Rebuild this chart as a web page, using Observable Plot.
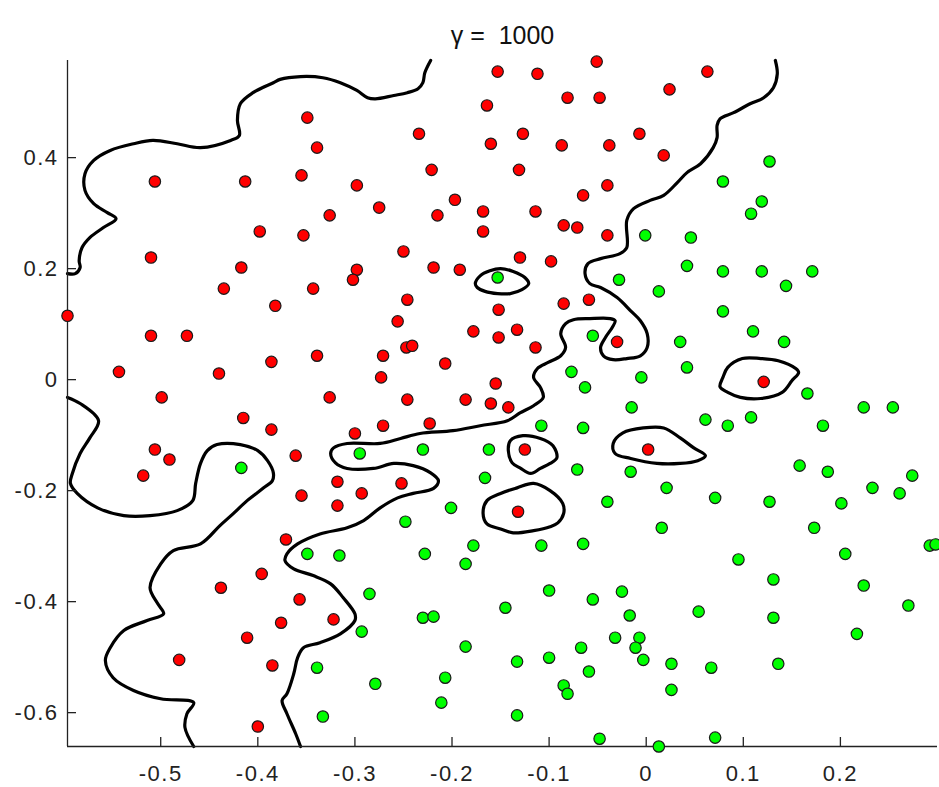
<!DOCTYPE html>
<html><head><meta charset="utf-8">
<script src="https://cdn.jsdelivr.net/npm/d3@7"></script>
<script src="https://cdn.jsdelivr.net/npm/@observablehq/plot@0.6"></script>
<style>
body{margin:0;background:#fff}
svg{display:block}
g[aria-label="x-axis tick label"] text, g[aria-label="y-axis tick label"] text{letter-spacing:1.5px}
</style>
</head><body><div id="chart"></div>
<script>
const titleText = "γ = \u00a01000";
const xDomain = [-0.596, 0.300];
const yDomain = [-0.661, 0.575];
const xTicks = [-0.5, -0.4, -0.3, -0.2, -0.1, 0, 0.1, 0.2];
const xTickLabels = ["-0.5", "-0.4", "-0.3", "-0.2", "-0.1", "0", "0.1", "0.2"];
const yTicks = [-0.6, -0.4, -0.2, 0, 0.2, 0.4];
const yTickLabels = ["-0.6", "-0.4", "-0.2", "0", "0.2", "0.4"];

const redPoints = [
[-0.506,0.357],[-0.413,0.357],[-0.398,0.267],[-0.510,0.220],[-0.417,0.202],[-0.435,0.164],
[-0.153,0.555],[-0.164,0.494],[-0.160,0.425],[-0.349,0.472],[-0.339,0.418],[-0.234,0.443],
[-0.355,0.368],[-0.221,0.378],[-0.298,0.350],[-0.326,0.296],[-0.275,0.310],[-0.197,0.324],
[-0.215,0.296],[-0.168,0.303],[-0.353,0.260],[-0.168,0.267],[-0.250,0.231],[-0.298,0.198],
[-0.302,0.180],[-0.219,0.202],[-0.192,0.198],[-0.343,0.164],[-0.112,0.551],[-0.051,0.573],
[0.063,0.555],[0.024,0.523],[-0.081,0.508],[-0.048,0.508],[-0.127,0.443],[-0.087,0.422],
[-0.038,0.422],[-0.007,0.443],[0.018,0.404],[-0.131,0.378],[-0.040,0.350],[-0.065,0.332],
[-0.114,0.303],[-0.085,0.278],[-0.071,0.274],[-0.040,0.260],[-0.130,0.220],[-0.098,0.213],
[-0.382,0.133],[-0.596,0.115],[-0.510,0.079],[-0.473,0.079],[-0.386,0.032],[-0.543,0.014],
[-0.440,0.011],[-0.499,-0.032],[-0.415,-0.069],[-0.386,-0.090],[-0.506,-0.126],[-0.491,-0.144],
[-0.518,-0.173],[-0.246,0.144],[-0.256,0.105],[-0.152,0.126],[-0.178,0.087],[-0.152,0.076],
[-0.247,0.058],[-0.241,0.061],[-0.339,0.043],[-0.271,0.043],[-0.207,0.029],[-0.273,0.004],
[-0.155,-0.007],[-0.160,-0.043],[-0.142,-0.050],[-0.326,-0.032],[-0.246,-0.036],[-0.186,-0.036],
[-0.271,-0.083],[-0.223,-0.079],[-0.300,-0.097],[-0.361,-0.137],[-0.318,-0.184],[-0.252,-0.187],
[-0.355,-0.209],[-0.293,-0.205],[-0.318,-0.227],[-0.085,0.137],[-0.059,0.144],[-0.133,0.090],
[-0.114,0.058],[-0.030,0.068],[-0.125,-0.126],[0.002,-0.126],[-0.132,-0.238],[0.121,-0.004],
[-0.371,-0.288],[-0.396,-0.350],[-0.438,-0.375],[-0.376,-0.438],[-0.411,-0.465],[-0.481,-0.505],
[-0.385,-0.515],[-0.400,-0.625],[-0.357,-0.396],[-0.322,-0.432]
];

const greenPoints = [
[-0.153,0.184],[0.079,0.357],[-0.001,0.260],[0.046,0.256],[0.042,0.205],[0.079,0.195],
[-0.028,0.180],[0.013,0.159],[0.127,0.393],[0.119,0.321],[0.108,0.299],[0.119,0.195],
[0.171,0.195],[0.144,0.169],[-0.295,-0.133],[-0.230,-0.126],[-0.162,-0.126],[-0.166,-0.177],
[-0.201,-0.231],[-0.248,-0.256],[0.079,0.123],[-0.055,0.079],[0.035,0.068],[0.042,0.022],
[-0.077,0.014],[-0.063,-0.014],[-0.005,0.004],[-0.015,-0.050],[0.061,-0.072],[0.084,-0.083],
[-0.108,-0.083],[-0.065,-0.087],[-0.071,-0.162],[-0.016,-0.166],[0.021,-0.195],[0.071,-0.213],
[-0.040,-0.220],[0.016,-0.267],[0.110,0.087],[0.142,0.068],[0.166,-0.025],[0.224,-0.050],
[0.254,-0.050],[0.108,-0.068],[0.182,-0.083],[0.158,-0.155],[0.187,-0.166],[0.274,-0.173],
[0.233,-0.195],[0.261,-0.205],[0.127,-0.220],[0.201,-0.223],[0.173,-0.267],[-0.349,-0.314],
[-0.316,-0.317],[-0.228,-0.314],[-0.178,-0.299],[-0.186,-0.332],[-0.285,-0.386],[-0.293,-0.454],
[-0.230,-0.429],[-0.219,-0.427],[-0.145,-0.411],[-0.186,-0.481],[-0.339,-0.519],[-0.279,-0.548],
[-0.207,-0.537],[-0.211,-0.582],[-0.333,-0.607],[-0.108,-0.299],[-0.065,-0.296],[-0.100,-0.380],
[-0.055,-0.396],[-0.025,-0.382],[-0.017,-0.425],[0.054,-0.418],[-0.032,-0.465],[-0.007,-0.465],
[-0.011,-0.483],[-0.067,-0.483],[-0.003,-0.505],[0.026,-0.512],[0.067,-0.519],[-0.133,-0.508],
[-0.100,-0.501],[-0.059,-0.526],[-0.085,-0.551],[-0.081,-0.566],[0.026,-0.559],[-0.133,-0.605],
[-0.048,-0.647],[0.013,-0.661],[0.071,-0.645],[0.095,-0.324],[0.205,-0.314],[0.131,-0.360],
[0.224,-0.371],[0.270,-0.407],[0.292,-0.299],[0.298,-0.297],[0.131,-0.429],[0.217,-0.458],
[0.136,-0.512],[-0.417,-0.159]
];

// decision boundary (open curves)
const boundaryA = [
[-0.222,0.575],[-0.228,0.553],[-0.230,0.535],[-0.235,0.524],[-0.246,0.517],[-0.260,0.512],
[-0.279,0.506],[-0.287,0.508],[-0.298,0.521],[-0.315,0.535],[-0.333,0.544],[-0.356,0.546],
[-0.377,0.541],[-0.384,0.535],[-0.405,0.517],[-0.418,0.497],[-0.421,0.467],[-0.419,0.440],
[-0.428,0.431],[-0.459,0.418],[-0.483,0.425],[-0.508,0.431],[-0.528,0.425],[-0.552,0.413],
[-0.569,0.395],[-0.578,0.371],[-0.578,0.341],[-0.569,0.317],[-0.555,0.301],[-0.546,0.290],
[-0.559,0.274],[-0.573,0.256],[-0.581,0.238],[-0.584,0.214],[-0.583,0.202],[-0.588,0.191],
[-0.596,0.191]
];
const boundaryB = [
[0.133,0.575],[0.135,0.551],[0.131,0.526],[0.121,0.508],[0.107,0.497],[0.090,0.481],
[0.076,0.470],[0.073,0.458],[0.073,0.436],[0.069,0.418],[0.056,0.389],[0.042,0.373],
[0.032,0.355],[0.018,0.332],[0.004,0.323],[-0.013,0.308],[-0.020,0.287],[-0.020,0.238],
[-0.027,0.227],[-0.047,0.218],[-0.060,0.209],[-0.063,0.191],[-0.058,0.173],[-0.047,0.166],
[-0.030,0.148],[-0.016,0.124],[-0.006,0.106],[0.001,0.083],[0.001,0.058],[-0.006,0.043],
[-0.020,0.038],[-0.034,0.036],[-0.044,0.043],[-0.047,0.058],[-0.042,0.076],[-0.035,0.094],
[-0.032,0.106],[-0.037,0.110],[-0.058,0.110],[-0.075,0.108],[-0.083,0.101],[-0.088,0.083],
[-0.083,0.058],[-0.088,0.043],[-0.101,0.031],[-0.112,0.020],[-0.116,0.004],[-0.109,-0.014],
[-0.106,-0.032],[-0.116,-0.047],[-0.130,-0.060],[-0.143,-0.074],[-0.171,-0.083],[-0.199,-0.092],
[-0.233,-0.097],[-0.253,-0.106],[-0.274,-0.115],[-0.308,-0.115],[-0.322,-0.123],[-0.325,-0.133],
[-0.320,-0.150],[-0.308,-0.160],[-0.281,-0.160],[-0.260,-0.151],[-0.240,-0.155],[-0.222,-0.168],
[-0.214,-0.182],[-0.219,-0.196],[-0.240,-0.205],[-0.256,-0.213],[-0.274,-0.231],[-0.291,-0.254],
[-0.308,-0.267],[-0.336,-0.278],[-0.359,-0.296],[-0.370,-0.314],[-0.372,-0.326],[-0.363,-0.341],
[-0.343,-0.353],[-0.325,-0.368],[-0.312,-0.393],[-0.300,-0.422],[-0.300,-0.434],[-0.315,-0.458],
[-0.336,-0.474],[-0.353,-0.483],[-0.359,-0.501],[-0.363,-0.530],[-0.370,-0.566],[-0.375,-0.578],
[-0.370,-0.602],[-0.361,-0.638],[-0.356,-0.661]
];
const boundaryC = [
[-0.596,-0.032],[-0.583,-0.043],[-0.564,-0.074],[-0.573,-0.105],[-0.583,-0.133],[-0.591,-0.169],
[-0.593,-0.187],[-0.586,-0.205],[-0.565,-0.231],[-0.538,-0.245],[-0.511,-0.245],[-0.483,-0.236],
[-0.467,-0.218],[-0.464,-0.187],[-0.459,-0.151],[-0.452,-0.128],[-0.442,-0.117],[-0.418,-0.117],
[-0.400,-0.128],[-0.390,-0.146],[-0.384,-0.168],[-0.385,-0.182],[-0.394,-0.195],[-0.411,-0.218],
[-0.425,-0.241],[-0.439,-0.263],[-0.459,-0.296],[-0.487,-0.308],[-0.500,-0.332],[-0.511,-0.375],
[-0.503,-0.404],[-0.497,-0.422],[-0.514,-0.434],[-0.538,-0.452],[-0.552,-0.483],[-0.557,-0.506],
[-0.549,-0.537],[-0.528,-0.560],[-0.500,-0.575],[-0.466,-0.582],[-0.473,-0.602],[-0.475,-0.627],
[-0.466,-0.661]
];
// closed loops around isolated points
const loopD = [
[-0.176,0.173],[-0.171,0.187],[-0.161,0.196],[-0.150,0.200],[-0.137,0.195],[-0.125,0.184],
[-0.121,0.173],[-0.128,0.162],[-0.140,0.155],[-0.153,0.155],[-0.166,0.159],[-0.174,0.166]
];
const loopE = [
[-0.142,-0.128],[-0.140,-0.110],[-0.127,-0.101],[-0.109,-0.106],[-0.096,-0.119],[-0.092,-0.141],
[-0.099,-0.151],[-0.109,-0.160],[-0.119,-0.169],[-0.130,-0.159],[-0.138,-0.150]
];
const loopF = [
[-0.032,-0.133],[-0.034,-0.115],[-0.024,-0.096],[-0.003,-0.087],[0.018,-0.087],[0.035,-0.105],
[0.049,-0.123],[0.061,-0.137],[0.053,-0.146],[0.035,-0.151],[0.011,-0.151],[-0.016,-0.142]
];
const loopG = [
[-0.164,-0.218],[-0.150,-0.205],[-0.133,-0.195],[-0.116,-0.187],[-0.099,-0.200],[-0.086,-0.223],
[-0.085,-0.241],[-0.091,-0.258],[-0.099,-0.265],[-0.116,-0.272],[-0.137,-0.276],[-0.150,-0.269],
[-0.164,-0.260],[-0.168,-0.241]
];
const loopH = [
[0.076,-0.013],[0.079,0.004],[0.084,0.022],[0.099,0.038],[0.118,0.038],[0.136,0.034],
[0.154,0.020],[0.157,0.013],[0.150,-0.002],[0.140,-0.023],[0.118,-0.034],[0.097,-0.032],
[0.084,-0.023]
];

const toRows = (curves) => curves.flatMap((c, id) => c.map(([x, y]) => ({id, x, y})));
const openRows = toRows([boundaryA, boundaryB, boundaryC]);
const closedRows = toRows([loopD, loopE, loopF, loopG, loopH]);

const W = 939, H = 787, mL = 67, mR = 2, mT = 60, mB = 41;
const plotW = W - mL - mR, plotH = H - mT - mB;
const axisColor = "#222";

const chart = Plot.plot({
  width: W, height: H,
  marginLeft: mL, marginRight: mR, marginTop: mT, marginBottom: mB,
  style: {fontFamily: "'Liberation Sans', Arial, Helvetica, sans-serif", background: "#fff", color: axisColor},
  x: {domain: xDomain, axis: null, label: null},
  y: {domain: yDomain, axis: null, label: null},
  marks: [
    Plot.line(openRows, {x: "x", y: "y", z: "id", curve: "catmull-rom", stroke: "#000", strokeWidth: 3.2, strokeLinejoin: "round"}),
    Plot.line(closedRows, {x: "x", y: "y", z: "id", curve: "catmull-rom-closed", stroke: "#000", strokeWidth: 3.2}),
    Plot.ruleX([xDomain[0]], {stroke: axisColor, strokeWidth: 1.3}),
    Plot.ruleY([yDomain[0]], {stroke: axisColor, strokeWidth: 1.3}),
    Plot.tickX(xTicks, {x: d => d, insetTop: plotH - 9, stroke: axisColor, strokeWidth: 1.3}),
    Plot.tickY(yTicks, {y: d => d, insetRight: plotW - 9, stroke: axisColor, strokeWidth: 1.3}),
    Plot.axisX(xTicks, {tickSize: 0, tickPadding: 19, fontSize: 22, fill: axisColor, label: null,
      tickFormat: d => xTickLabels[xTicks.indexOf(d)]}),
    Plot.axisY(yTicks, {tickSize: 0, tickPadding: 9, fontSize: 22, fill: axisColor, label: null,
      tickFormat: d => yTickLabels[yTicks.indexOf(d)]}),
    Plot.dot(redPoints, {x: d => d[0], y: d => d[1], r: 5.7, fill: "#ff0000", stroke: "#1a1a1a", strokeWidth: 1.2}),
    Plot.dot(greenPoints, {x: d => d[0], y: d => d[1], r: 5.7, fill: "#00ff00", stroke: "#1a1a1a", strokeWidth: 1.2}),
    Plot.text([titleText], {text: d => d, frameAnchor: "top", dy: -34, fontSize: 25, fill: "#111"})
  ]
});
document.getElementById("chart").appendChild(chart);
</script>
</body></html>
